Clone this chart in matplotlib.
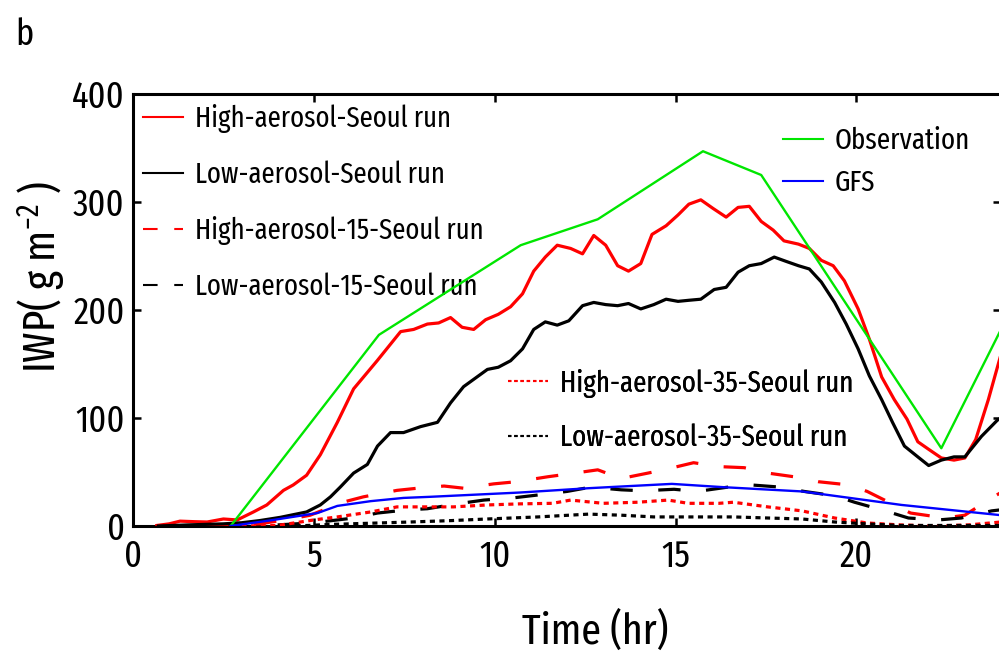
import matplotlib
matplotlib.use("Agg")
import matplotlib.pyplot as plt
from matplotlib.lines import Line2D
from matplotlib.font_manager import FontProperties

FAM = ['Fira Sans Extra Condensed', 'Fira Sans Condensed', 'Liberation Sans', 'DejaVu Sans']
plt.rcParams['font.family'] = FAM
plt.rcParams['mathtext.default'] = 'regular'

# ---- data ----
hi_x = [0.66, 1.0, 1.3, 1.7, 2.05, 2.5, 2.88, 3.33, 3.7, 4.16, 4.43, 4.8, 5.18, 5.65, 6.1, 6.75, 7.4,
        7.76, 8.14, 8.45, 8.78, 9.1, 9.42, 9.75, 10.1, 10.44, 10.77, 11.08, 11.4, 11.73, 12.1, 12.43,
        12.74, 13.07, 13.4, 13.7, 14.04, 14.35, 14.74, 15.07, 15.37, 15.7, 16.04, 16.4, 16.73, 17.04,
        17.37, 17.7, 18.0, 18.4, 18.7, 19.03, 19.36, 19.67, 20.05, 20.36, 20.7, 21.05, 21.4, 21.7,
        22.0, 22.35, 22.7, 23.0, 23.3, 23.65, 24.0]
hi_y = [0.5, 2, 4.5, 4, 3.7, 6.5, 5.6, 13, 19.5, 33, 38, 47, 66, 96, 127, 153, 180,
        182, 187, 188, 193, 184, 182, 191, 196, 203, 215, 236, 249, 260, 257, 252,
        269, 260, 241, 236, 243, 270, 278, 288, 298, 302, 294, 286, 295, 296,
        282, 274, 264, 261, 257, 246, 241, 227, 201, 173, 138, 117, 99, 78,
        71, 63, 61, 63, 80, 117, 159]

lo_x = [0.7, 1.5, 2.5, 3.0, 3.5, 4.07, 4.8, 5.18, 5.46, 5.73, 6.1, 6.48, 6.76, 7.12, 7.48, 7.95, 8.42,
        8.78, 9.14, 9.47, 9.8, 10.1, 10.44, 10.77, 11.08, 11.4, 11.73, 12.05, 12.43, 12.74, 13.07,
        13.4, 13.7, 14.04, 14.4, 14.74, 15.07, 15.37, 15.7, 16.07, 16.4, 16.73, 17.04, 17.37, 17.73,
        18.06, 18.4, 18.7, 19.03, 19.4, 19.72, 20.05, 20.36, 20.7, 21.0, 21.33, 21.7, 22.0, 22.35,
        22.7, 23.0, 23.46, 23.9, 24.0]
lo_y = [0, 1, 2, 3, 5, 8, 13, 19.5, 27, 36, 49, 57, 74, 86.5, 86.5, 92, 96,
        114, 129, 137, 145, 147, 153, 164, 182, 189, 186, 190, 204, 207, 205,
        204, 206, 201, 205, 210, 208, 209, 210, 219, 221, 235, 241, 243, 249,
        245, 241, 238, 226, 207, 187, 164, 139, 117, 96, 74, 64, 56, 61,
        64, 64, 83, 98, 100]

hi15_x = [0.7, 2.5, 3.5, 4.35, 4.9, 5.8, 6.37, 7.3, 7.87, 8.6, 9.14, 9.97, 10.6, 11.47, 12.0, 12.85,
          13.5, 14.24, 14.8, 15.5, 16.2, 16.9, 17.55, 18.4, 18.95, 19.8, 20.3, 21.05, 21.5, 22.45,
          23.0, 23.74, 24.0]
hi15_y = [0, 1, 2, 6.5, 10, 22, 27, 33, 35, 37, 35, 39, 41, 45.6, 48, 52,
          44, 49, 53, 58.6, 55, 54, 49, 45, 41, 38, 32, 19.5, 12, 7.4,
          10, 26, 31]

lo15_x = [4.0, 5.0, 6.1, 6.76, 7.6, 8.14, 9.06, 9.7, 10.5, 11.27, 12.0, 12.66, 13.5, 14.1, 14.96,
          15.6, 16.45, 17.1, 17.9, 18.56, 19.4, 19.95, 20.8, 21.44, 22.27, 22.9, 23.74, 24.0]
lo15_y = [1, 3, 7.4, 12, 15, 16, 21, 24, 26, 29, 32, 36, 33.5, 32.6, 34,
          32, 36, 38, 36, 32, 28, 22, 14, 7.4, 5.6, 7.4, 14, 15]

hi35_x = [3.0, 4.0, 5.0, 5.65, 6.57, 7.3, 8.0, 8.86, 9.8, 10.7, 11.6, 12.1, 13.0, 13.95, 14.8, 15.35,
          16.2, 16.6, 17.55, 18.5, 19.4, 20.3, 21.2, 22.2, 23.1, 24.0]
hi35_y = [0, 0.5, 5.6, 8.4, 13, 17.7, 17.7, 17.7, 19.5, 20.5, 21, 24, 21, 22, 24, 21,
          21, 22, 17.7, 14, 7.4, 2.8, 1, 0, 1, 3.7]

lo35_x = [4.5, 5.5, 6.5, 7.67, 8.8, 9.8, 11.2, 12.6, 13.5, 14.4, 15.35, 16.6, 17.56, 18.5, 19.4,
          20.3, 21.2, 24.0]
lo35_y = [0, 1.5, 2.5, 3.7, 5, 6.5, 8.4, 11, 10, 8.4, 8.4, 8.4, 7.4, 6.5, 3.7,
          1.9, 0.5, 0.5]

obs_x = [2.7, 6.8, 10.72, 12.85, 15.76, 17.37, 22.35, 24.0]
obs_y = [0, 177, 260, 284, 347, 325, 72, 182]

gfs_x = [2.7, 3.88, 5.1, 5.65, 6.57, 7.48, 8.2, 10.7, 12.6, 14.9, 16.3, 18.5, 21.25, 24.0]
gfs_y = [0, 5.6, 12, 18.6, 23, 26, 27, 31, 35, 39, 36, 32, 19.5, 10]

labels = ["High-aerosol-Seoul run", "Low-aerosol-Seoul run", "High-aerosol-15-Seoul run",
          "Low-aerosol-15-Seoul run", "Observation", "GFS",
          "High-aerosol-35-Seoul run", "Low-aerosol-35-Seoul run"]
xticks = [0, 5, 10, 15, 20]
yticks = [0, 100, 200, 300, 400]
xlabel = "Time (hr)"
ylabel = "IWP( g m$^{-2}$ )"
panel = "b"

# ---- figure ----
W, H = 999, 653
DPI = 100
fig = plt.figure(figsize=(W / DPI, H / DPI), dpi=DPI)
renderer = fig.canvas.get_renderer()


def fit(txt, target_px, rot=0):
    t = fig.text(0, 0, txt, fontsize=20, rotation=rot)
    bb = t.get_window_extent(renderer)
    t.remove()
    w = bb.height if rot else bb.width
    return 20 * target_px / w


def lp_height(size):
    w, h, d = renderer.get_text_width_height_descent("lp", FontProperties(family=FAM, size=size), ismath=False)
    return h


ax = fig.add_axes([133 / W, 127 / H, (1001 - 133) / W, (526 - 94) / H])

RED = '#ff0000'
GREEN = '#00e600'
BLUE = '#0000ff'
lw = 2.3
dash = (7, 8)
dot = (1.6, 1.4)

l_hi, = ax.plot(hi_x, hi_y, color=RED, lw=lw, zorder=5)
l_lo, = ax.plot(lo_x, lo_y, color='black', lw=lw, zorder=5)
l_hi15, = ax.plot(hi15_x, hi15_y, color=RED, lw=lw, dashes=dash, zorder=4)
l_lo15, = ax.plot(lo15_x, lo15_y, color='black', lw=lw, dashes=dash, zorder=4)
l_hi35, = ax.plot(hi35_x, hi35_y, color=RED, lw=lw, dashes=dot, zorder=4)
l_lo35, = ax.plot(lo35_x, lo35_y, color='black', lw=lw, dashes=dot, zorder=4)
l_obs, = ax.plot(obs_x, obs_y, color=GREEN, lw=1.7, zorder=6)
l_gfs, = ax.plot(gfs_x, gfs_y, color=BLUE, lw=1.7, zorder=6)

ax.set_xlim(0, 24)
ax.set_ylim(0, 400)
ax.set_xticks(xticks)
ax.set_yticks(yticks)
for s in ax.spines.values():
    s.set_linewidth(2.2)

tick_fs = fit("400", 53)
ax.tick_params(direction='in', length=6, width=1.8, top=True, right=True, labelsize=tick_fs)
ax.tick_params(axis='x', pad=9)
ax.tick_params(axis='y', pad=6)

ax.set_xlabel(xlabel, fontsize=fit(xlabel, 146))
ax.xaxis.set_label_coords((595 - 133) / (1001 - 133), -(632 - 526) / (526 - 94), transform=ax.transAxes)
ax.xaxis.label.set_va('center')
ax.set_ylabel(ylabel, fontsize=fit(ylabel, 193, rot=90))
ax.yaxis.set_label_coords(-(133 - 42) / (1001 - 133), (526 - 277) / (526 - 94), transform=ax.transAxes)
ax.yaxis.label.set_va('center')

fig.text(15 / W, 1 - 35 / H, panel, fontsize=tick_fs, va='center', ha='left')


def add_legend(handles, labs, x_px, first_center_px, pitch_px, size):
    fs_px = size * DPI / 72
    hlp = lp_height(size)
    leg = ax.legend(handles, labs, loc='upper left', frameon=False, borderpad=0, borderaxespad=0,
                    handlelength=40 / fs_px, handletextpad=12 / fs_px,
                    labelspacing=(pitch_px - hlp) / fs_px, fontsize=size,
                    bbox_transform=fig.transFigure,
                    bbox_to_anchor=(x_px / W, 1 - (first_center_px - hlp / 2) / H))
    for hl in leg.get_lines():
        hl.set_linewidth(1.5)
    ax.add_artist(leg)
    return leg


s1 = fit(labels[0], 257)
s2 = fit(labels[4], 135)
s3 = fit(labels[7], 287)
add_legend([l_hi, l_lo, l_hi15, l_lo15], labels[0:4], 143, 118, 56, s1)
add_legend([l_obs, l_gfs], labels[4:6], 783, 141, 42, s2)
add_legend([l_hi35, l_lo35], labels[6:8], 508, 383, 54, s3)

fig.savefig("out.png", dpi=DPI)
